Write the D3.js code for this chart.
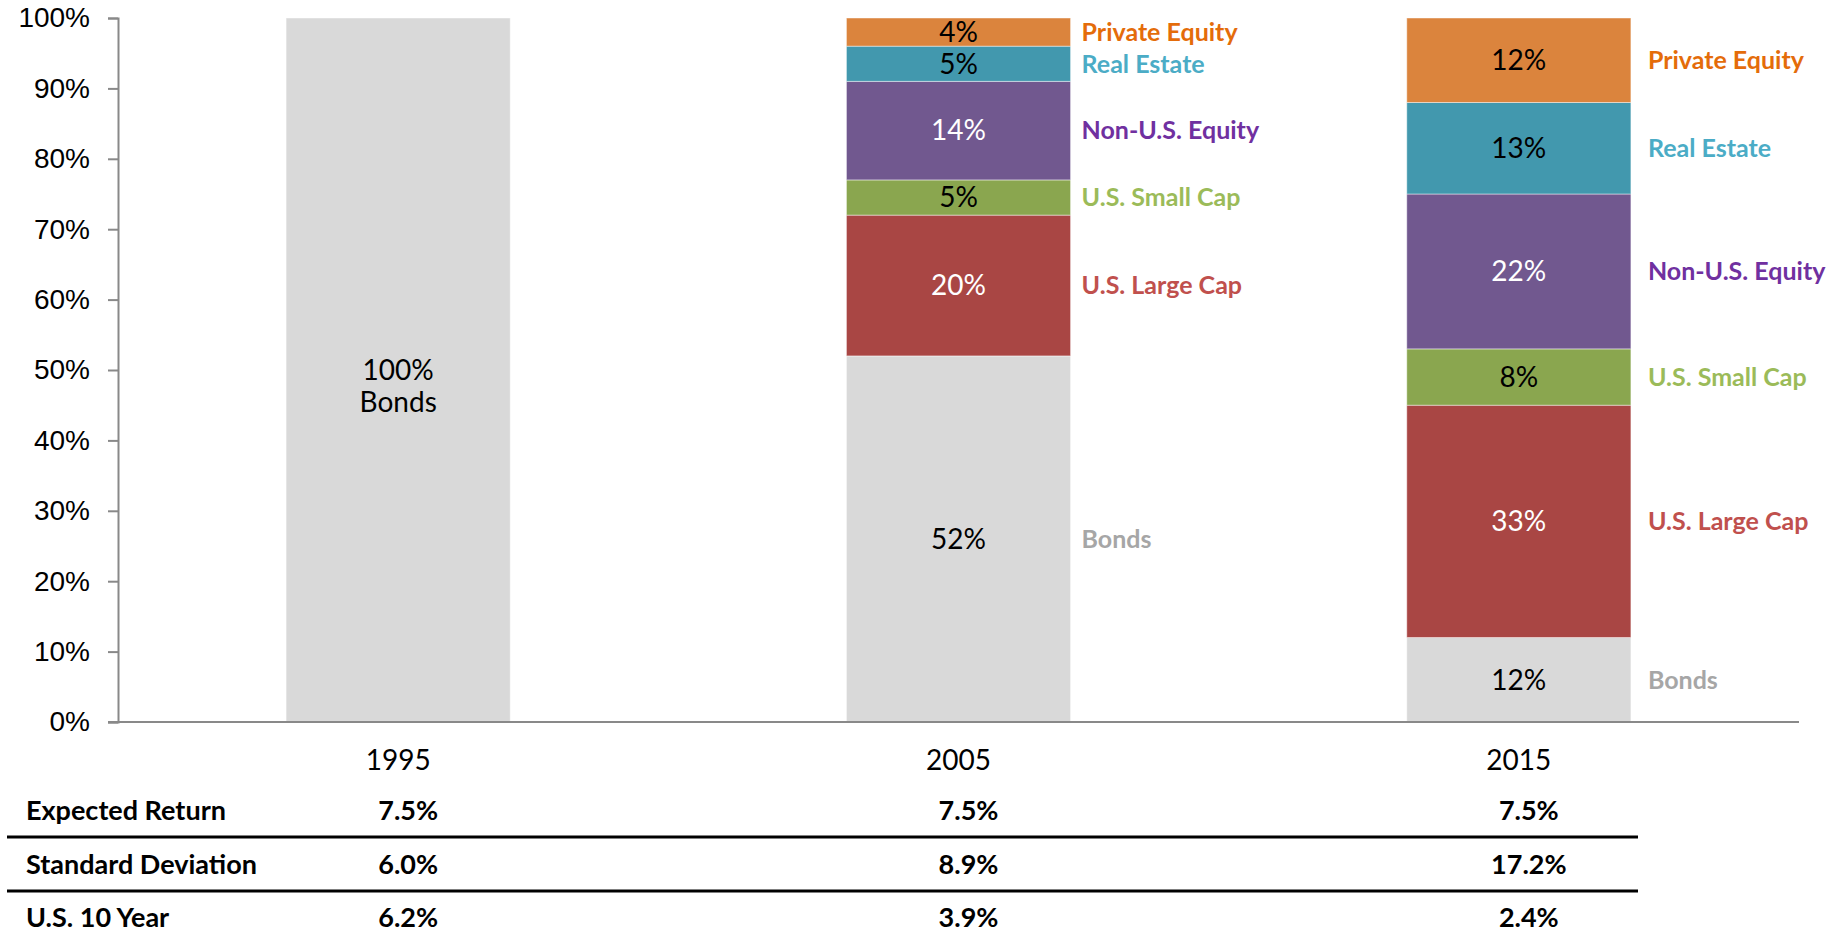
<!DOCTYPE html>
<html lang="en">
<head>
<meta charset="utf-8">
<title>Asset allocation 1995 / 2005 / 2015</title>
<script src="https://cdn.jsdelivr.net/npm/d3@7"></script>
<style>
  body { margin: 0; background: #fff; }
  svg { display: block; font-family: Lato, "Open Sans", sans-serif; }
  .axis text { font-size: 28px; fill: #000; }
  .axis path, .axis line { stroke: #898989; stroke-width: 2; }
  .seglabel { font-size: 28px; }
  .legend { font-size: 25px; font-weight: bold; }
  .year { font-size: 28px; fill: #000; }
  .stat { font-size: 27px; font-weight: bold; fill: #000; }
</style>
</head>
<body>
<svg id="chart" width="1839" height="933"></svg>
<script>
// data
var years = ["1995", "2005", "2015"];
var assetClasses = ["Bonds", "U.S. Large Cap", "U.S. Small Cap", "Non-U.S. Equity", "Real Estate", "Private Equity"];
var bonds         = [100, 52, 12];
var largeCap      = [0, 20, 33];
var smallCap      = [0, 5, 8];
var nonUSEquity   = [0, 14, 22];
var realEstate    = [0, 5, 13];
var privateEquity = [0, 4, 12];
var yTicks = [0, 10, 20, 30, 40, 50, 60, 70, 80, 90, 100];

var statLabels = ["Expected Return", "Standard Deviation", "U.S. 10 Year"];
var expectedReturn = ["7.5%", "7.5%", "7.5%"];
var stdDeviation   = ["6.0%", "8.9%", "17.2%"];
var tenYear        = ["6.2%", "3.9%", "2.4%"];

// colours
var fillColor  = ["#d9d9d9", "#a94644", "#8aa64f", "#71588f", "#4298ae", "#db843d"];
var textColor  = ["#000", "#fff", "#000", "#fff", "#000", "#000"];
var legendColor = ["#a6a6a6", "#c0504d", "#9bbb59", "#7030a0", "#4bacc6", "#e46c0a"];

var svg = d3.select("#chart");
var plotLeft = 118, plotRight = 1799, plotTop = 18, plotBottom = 722;

var x = d3.scaleBand().domain(years).range([plotLeft, plotRight]).paddingInner(0.6).paddingOuter(0.3);
var y = d3.scaleLinear().domain([0, 100]).range([plotBottom, plotTop]);

var series = [bonds, largeCap, smallCap, nonUSEquity, realEstate, privateEquity];
var rows = years.map(function(yr, i) {
  var r = { year: yr };
  assetClasses.forEach(function(a, k) { r[a] = series[k][i]; });
  return r;
});
var stack = d3.stack().keys(assetClasses)(rows);

// y axis
svg.append("g")
  .attr("class", "axis")
  .attr("transform", "translate(" + plotLeft + ",0)")
  .call(d3.axisLeft(y).tickValues(yTicks).tickFormat(function(d){ return d + "%"; })
        .tickSize(10).tickSizeOuter(10).tickPadding(18));

// bars
var layers = svg.selectAll(".layer")
  .data(stack)
  .enter().append("g")
  .attr("class", "layer");

layers.selectAll("rect")
  .data(function(s, k) { return s.map(function(d) { d.k = k; return d; }); })
  .enter().append("rect")
  .filter(function(d) { return d[1] - d[0] > 0; })
  .attr("x", function(d) { return x(d.data.year); })
  .attr("y", function(d) { return y(d[1]); })
  .attr("width", x.bandwidth())
  .attr("height", function(d) { return y(d[0]) - y(d[1]); })
  .attr("fill", function(d) { return fillColor[d.k]; })
  .attr("stroke", "rgba(255,255,255,0.45)")
  .attr("stroke-width", 1);

// labels inside segments
stack.forEach(function(s, k) {
  s.forEach(function(d) {
    var v = d[1] - d[0];
    if (v <= 0) return;
    var cx = x(d.data.year) + x.bandwidth() / 2;
    var cy = y((d[0] + d[1]) / 2);
    svg.append("text")
      .attr("class", "seglabel")
      .attr("x", cx)
      .attr("y", cy)
      .attr("text-anchor", "middle")
      .attr("dy", "0.35em")
      .attr("fill", textColor[k])
      .text(v + "%");
    if (v === 100) {
      svg.append("text")
        .attr("class", "seglabel")
        .attr("x", cx)
        .attr("y", cy + 32)
        .attr("text-anchor", "middle")
        .attr("dy", "0.35em")
        .attr("fill", textColor[k])
        .text(assetClasses[k]);
    }
  });
});

// legend text beside the 2005 and 2015 bars
var legendGap = { "2005": 11, "2015": 17 };
stack.forEach(function(s, k) {
  s.forEach(function(d) {
    var yr = d.data.year;
    if (!(yr in legendGap) || d[1] - d[0] <= 0) return;
    svg.append("text")
      .attr("class", "legend")
      .attr("x", x(yr) + x.bandwidth() + legendGap[yr])
      .attr("y", y((d[0] + d[1]) / 2))
      .attr("dy", "0.35em")
      .attr("fill", legendColor[k])
      .text(assetClasses[k]);
  });
});

// base line
svg.append("line")
  .attr("x1", plotLeft - 10).attr("x2", plotRight)
  .attr("y1", y(0)).attr("y2", y(0))
  .attr("stroke", "#898989").attr("stroke-width", 2);

// year labels
svg.selectAll(".year")
  .data(years)
  .enter().append("text")
  .attr("class", "year")
  .attr("x", function(d) { return x(d) + x.bandwidth() / 2; })
  .attr("y", 760)
  .attr("dy", "0.35em")
  .attr("text-anchor", "middle")
  .text(function(d) { return d; });

// stats table under the chart
var statValues = [expectedReturn, stdDeviation, tenYear];
var rowY = [811, 865, 918];
statLabels.forEach(function(lab, r) {
  svg.append("text")
    .attr("class", "stat")
    .attr("x", 26)
    .attr("y", rowY[r])
    .attr("dy", "0.35em")
    .text(lab);
  years.forEach(function(yr, i) {
    svg.append("text")
      .attr("class", "stat")
      .attr("x", x(yr) + x.bandwidth() / 2 + 10)
      .attr("y", rowY[r])
      .attr("dy", "0.35em")
      .attr("text-anchor", "middle")
      .text(statValues[r][i]);
  });
});
[837, 891].forEach(function(ly) {
  svg.append("line")
    .attr("x1", 7).attr("x2", 1638)
    .attr("y1", ly).attr("y2", ly)
    .attr("stroke", "#000").attr("stroke-width", 3);
});
</script>
</body>
</html>
